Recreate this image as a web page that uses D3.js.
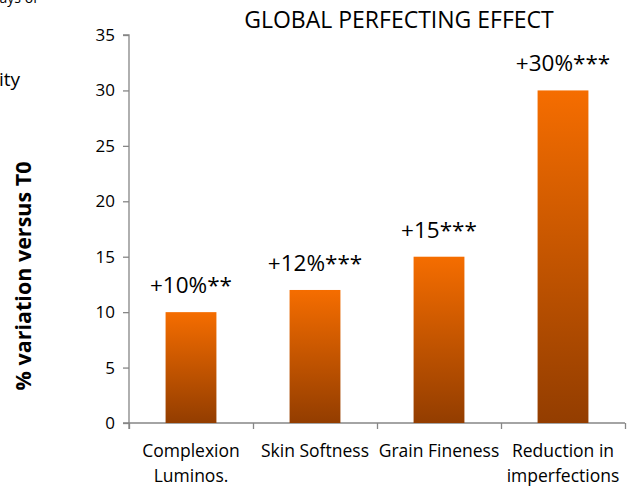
<!DOCTYPE html>
<html>
<head>
<meta charset="utf-8">
<script src="https://cdn.jsdelivr.net/npm/d3@7"></script>
<style>
  body { margin: 0; background: #fff; }
  text { font-family: "Open Sans", sans-serif; fill: #000; }
</style>
</head>
<body>
<svg id="chart" width="638" height="486"></svg>
<script>
    // chart values
    var categories = [["Complexion", "Luminos."], ["Skin Softness"], ["Grain Fineness"], ["Reduction in", "imperfections"]];
    var values = [10, 12, 15, 30];
    var valueLabels = ["+10%**", "+12%***", "+15***", "+30%***"];
    var yTicks = [0, 5, 10, 15, 20, 25, 30, 35];

    var svg = d3.select("#chart");
    var plotLeft = 129, plotRight = 625, plotTop = 35, plotBottom = 423;

    var x = d3.scaleBand()
        .domain(d3.range(values.length))
        .range([plotLeft, plotRight])
        .paddingInner(0.59)
        .paddingOuter(0.295);

    var y = d3.scaleLinear().domain([0, 35]).range([plotBottom, plotTop]);

    /*
    gradient for the bars: orange on top, brown at the base
     */
    var grad = svg.append("defs").append("linearGradient")
        .attr("id", "barGrad")
        .attr("x1", 0).attr("y1", 0).attr("x2", 0).attr("y2", 1);
    grad.append("stop").attr("offset", "0%").attr("stop-color", "#f56d00");
    grad.append("stop").attr("offset", "100%").attr("stop-color", "#933d00");

    // cut-off text remnants at top left
    svg.append("text").attr("x", -9).attr("y", 3).style("font-size", "14px").text("days of");
    svg.append("text").attr("x", -1).attr("y", 86).style("font-size", "19px").text("ity");

    // title
    svg.append("text")
        .attr("x", 399).attr("y", 28)
        .attr("text-anchor", "middle")
        .style("font-size", "23px")
        .text("GLOBAL PERFECTING EFFECT");

    // y axis
    var yAxis = svg.append("g")
        .attr("transform", "translate(" + plotLeft + ",0)")
        .call(d3.axisLeft(y).tickValues(yTicks).tickSize(6).tickPadding(8));
    yAxis.selectAll("text").style("font-size", "17px").attr("font-family", null);

    // x axis
    var xAxisScale = d3.scaleLinear().domain([0, 4]).range([plotLeft, plotRight]);
    var xAxis = svg.append("g")
        .attr("transform", "translate(0," + plotBottom + ")")
        .call(d3.axisBottom(xAxisScale).tickValues([0, 1, 2, 3, 4]).tickSize(6).tickFormat(""));

    svg.selectAll(".domain, .tick line").attr("stroke", "#868686").attr("stroke-width", 1.3);
    xAxis.select(".domain").attr("d", "M" + plotLeft + ",6V0H" + plotRight);
    yAxis.select(".domain").attr("d", "M-6," + plotTop + "H0V" + plotBottom + "H-6");

    // bars
    svg.selectAll(".bar").data(values).enter().append("rect")
        .attr("class", "bar")
        .attr("x", function(d, i){ return x(i); })
        .attr("y", function(d){ return y(d); })
        .attr("width", x.bandwidth())
        .attr("height", function(d){ return plotBottom - y(d); })
        .attr("fill", "url(#barGrad)");

    // value labels
    svg.selectAll(".vlabel").data(values).enter().append("text")
        .attr("class", "vlabel")
        .attr("x", function(d, i){ return x(i) + x.bandwidth() / 2; })
        .attr("y", function(d){ return y(d) - 19; })
        .attr("text-anchor", "middle")
        .style("font-size", "22.5px")
        .text(function(d, i){ return valueLabels[i]; });

    // category labels, two lines where needed
    var cat = svg.selectAll(".cat").data(categories).enter().append("text")
        .attr("class", "cat")
        .attr("text-anchor", "middle")
        .style("font-size", "17.5px");
    cat.selectAll("tspan").data(function(d, i){ return d.map(function(s){ return {s: s, i: i}; }); })
        .enter().append("tspan")
        .attr("x", function(d){ return x(d.i) + x.bandwidth() / 2; })
        .attr("y", function(d, j){ return 457 + j * 25; })
        .text(function(d){ return d.s; });

    // y axis title
    svg.append("text")
        .attr("transform", "translate(31,276) rotate(-90)")
        .attr("text-anchor", "middle")
        .style("font-size", "21.5px")
        .style("font-weight", "bold")
        .text("% variation versus T0");
</script>
</body>
</html>
